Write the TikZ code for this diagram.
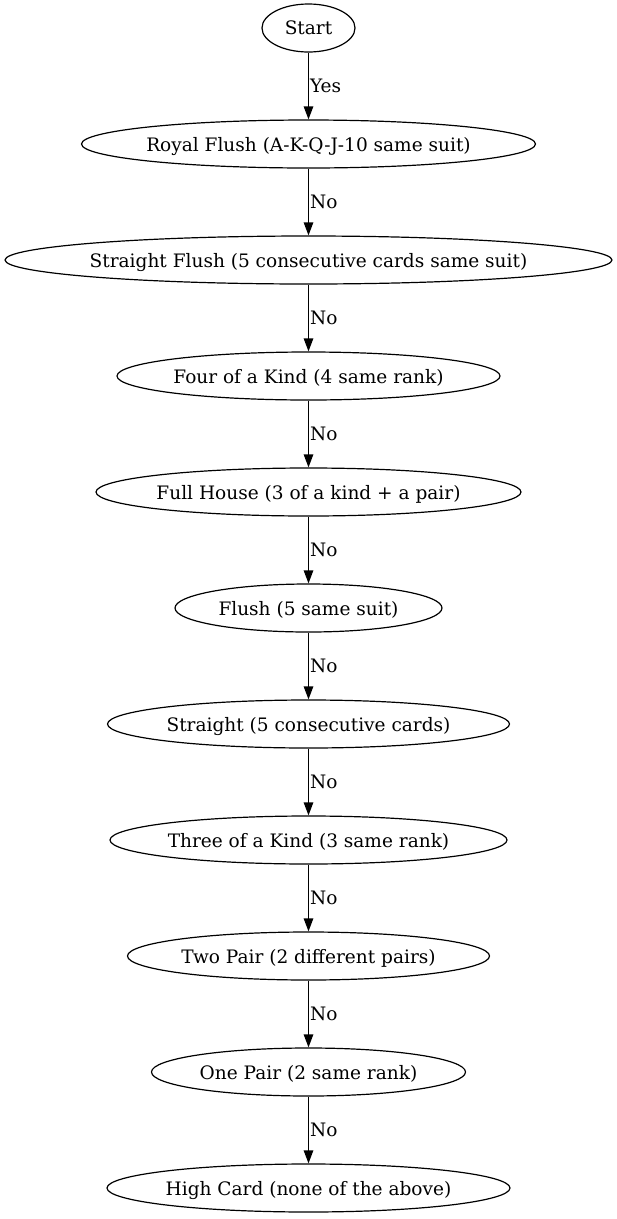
\documentclass[tikz,border=0pt]{standalone}
\usepackage{fontspec}
\setmainfont{DejaVu Serif}
\usetikzlibrary{shapes.geometric,arrows.meta}

\begin{document}
\begin{tikzpicture}[x=1bp,y=1bp,
    hand_node/.style={ellipse,draw,line width=1.2bp,inner xsep=-60bp,inner ysep=0pt,minimum height=48bp,text depth=0pt,font=\fontsize{18.6pt}{22pt}\selectfont},
    edge_label/.style={midway,right,inner sep=1bp,font=\fontsize{18.6pt}{22pt}\selectfont},
    >={Triangle[length=13bp,width=9.5bp]}]
    \useasboundingbox (0,0) rectangle (617,-1219);
    \node[hand_node,minimum width=93bp] (start) at (308.5,-28) {Start};
    \node[hand_node,minimum width=454bp] (royal) at (308.5,-144) {Royal Flush (A-K-Q-J-10 same suit)};
    \node[hand_node,minimum width=607bp] (sflush) at (308.5,-260) {Straight Flush (5 consecutive cards same suit)};
    \node[hand_node,minimum width=383bp] (four) at (308.5,-376) {Four of a Kind (4 same rank)};
    \node[hand_node,minimum width=425bp] (full) at (308.5,-492) {Full House (3 of a kind + a pair)};
    \node[hand_node,minimum width=267bp] (flush) at (308.5,-608) {Flush (5 same suit)};
    \node[hand_node,minimum width=402bp] (straight) at (308.5,-724) {Straight (5 consecutive cards)};
    \node[hand_node,minimum width=397bp] (three) at (308.5,-840) {Three of a Kind (3 same rank)};
    \node[hand_node,minimum width=362bp] (two) at (308.5,-956) {Two Pair (2 different pairs)};
    \node[hand_node,minimum width=314bp] (one) at (308.5,-1072) {One Pair (2 same rank)};
    \node[hand_node,minimum width=403bp] (high) at (308.5,-1188) {High Card (none of the above)};
    \draw[->,line width=1.2bp] (start) -- node[edge_label] {Yes} (royal);
    \draw[->,line width=1.2bp] (royal) -- node[edge_label] {No} (sflush);
    \draw[->,line width=1.2bp] (sflush) -- node[edge_label] {No} (four);
    \draw[->,line width=1.2bp] (four) -- node[edge_label] {No} (full);
    \draw[->,line width=1.2bp] (full) -- node[edge_label] {No} (flush);
    \draw[->,line width=1.2bp] (flush) -- node[edge_label] {No} (straight);
    \draw[->,line width=1.2bp] (straight) -- node[edge_label] {No} (three);
    \draw[->,line width=1.2bp] (three) -- node[edge_label] {No} (two);
    \draw[->,line width=1.2bp] (two) -- node[edge_label] {No} (one);
    \draw[->,line width=1.2bp] (one) -- node[edge_label] {No} (high);
\end{tikzpicture}
\end{document}
